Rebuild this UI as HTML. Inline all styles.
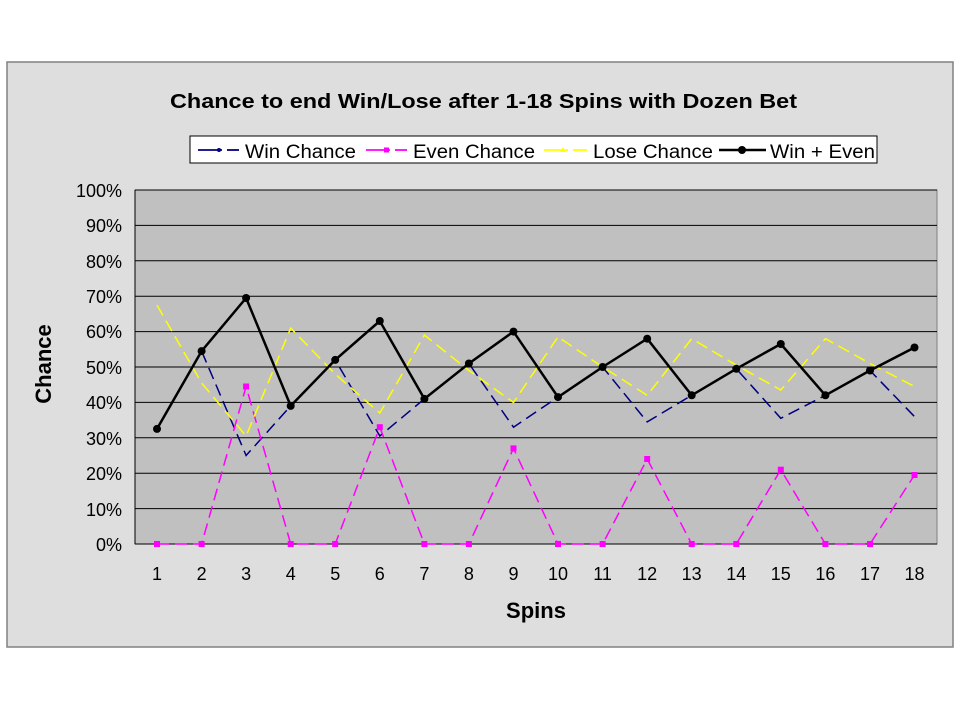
<!DOCTYPE html><html><head><style>body{margin:0;background:#fff}svg{display:block}text{font-family:"Liberation Sans",Arial,sans-serif}</style></head><body>
<svg width="960" height="720" xmlns="http://www.w3.org/2000/svg">
<rect x="7" y="62" width="946" height="585" fill="#dedede" stroke="#808080" stroke-width="1.5"/>
<text x="170" y="108" font-size="20" font-weight="bold" textLength="627" lengthAdjust="spacingAndGlyphs">Chance to end Win/Lose after 1-18 Spins with Dozen Bet</text>
<rect x="135" y="190" width="802" height="354" fill="#c0c0c0" stroke="#808080"/>
<g stroke="#000" stroke-width="1">
<line x1="135" y1="190" x2="937" y2="190"/><line x1="135" y1="225.4" x2="937" y2="225.4"/><line x1="135" y1="260.8" x2="937" y2="260.8"/><line x1="135" y1="296.2" x2="937" y2="296.2"/><line x1="135" y1="331.6" x2="937" y2="331.6"/><line x1="135" y1="367" x2="937" y2="367"/><line x1="135" y1="402.4" x2="937" y2="402.4"/><line x1="135" y1="437.8" x2="937" y2="437.8"/><line x1="135" y1="473.2" x2="937" y2="473.2"/><line x1="135" y1="508.6" x2="937" y2="508.6"/>
<line x1="135" y1="544" x2="937" y2="544"/><line x1="135" y1="190" x2="135" y2="544"/>
</g>
<g font-size="18" text-anchor="end">
<text x="122" y="197">100%</text><text x="122" y="232">90%</text><text x="122" y="268">80%</text><text x="122" y="303">70%</text><text x="122" y="338">60%</text><text x="122" y="374">50%</text><text x="122" y="409">40%</text><text x="122" y="445">30%</text><text x="122" y="480">20%</text><text x="122" y="516">10%</text><text x="122" y="551">0%</text>
</g>
<g font-size="18" text-anchor="middle">
<text x="157" y="580">1</text><text x="201.6" y="580">2</text><text x="246.1" y="580">3</text><text x="290.7" y="580">4</text><text x="335.2" y="580">5</text><text x="379.8" y="580">6</text><text x="424.4" y="580">7</text><text x="468.9" y="580">8</text><text x="513.5" y="580">9</text><text x="558" y="580">10</text><text x="602.6" y="580">11</text><text x="647.2" y="580">12</text><text x="691.7" y="580">13</text><text x="736.3" y="580">14</text><text x="780.8" y="580">15</text><text x="825.4" y="580">16</text><text x="870" y="580">17</text><text x="914.5" y="580">18</text>
</g>
<text x="536" y="618" font-size="22" font-weight="bold" text-anchor="middle">Spins</text>
<text transform="translate(51,364) rotate(-90)" font-size="22" font-weight="bold" text-anchor="middle">Chance</text>
<polyline fill="none" stroke="#000080" stroke-width="1.5" stroke-dasharray="12,6" points="157,428.9 201.6,351.1 246.1,455.5 290.7,405.9 335.2,359.9 379.8,436 424.4,398.9 468.9,363.5 513.5,427.2 558,397.1 602.6,367 647.2,421.9 691.7,395.3 736.3,368.8 780.8,418.3 825.4,395.3 870,370.5 914.5,416.6"/>
<polyline fill="none" stroke="#ff00ff" stroke-width="1.5" stroke-dasharray="12,6" points="157,544 201.6,544 246.1,386.5 290.7,544 335.2,544 379.8,427.2 424.4,544 468.9,544 513.5,448.4 558,544 602.6,544 647.2,459 691.7,544 736.3,544 780.8,469.7 825.4,544 870,544 914.5,475"/>
<polyline fill="none" stroke="#ffff00" stroke-width="1.5" stroke-dasharray="12,6" points="157,305.1 201.6,383 246.1,436 290.7,328.1 335.2,374.1 379.8,413 424.4,335.1 468.9,370.5 513.5,402.4 558,336.9 602.6,367 647.2,395.3 691.7,338.7 736.3,365.2 780.8,390 825.4,338.7 870,363.5 914.5,386.5"/>
<polyline fill="none" stroke="#000" stroke-width="2.5" points="157,428.9 201.6,351.1 246.1,298 290.7,405.9 335.2,359.9 379.8,321 424.4,398.9 468.9,363.5 513.5,331.6 558,397.1 602.6,367 647.2,338.7 691.7,395.3 736.3,368.8 780.8,344 825.4,395.3 870,370.5 914.5,347.5"/>
<g fill="#ff00ff">
<rect x="154" y="541" width="6" height="6"/><rect x="198.6" y="541" width="6" height="6"/><rect x="243.1" y="383.5" width="6" height="6"/><rect x="287.7" y="541" width="6" height="6"/><rect x="332.2" y="541" width="6" height="6"/><rect x="376.8" y="424.2" width="6" height="6"/><rect x="421.4" y="541" width="6" height="6"/><rect x="465.9" y="541" width="6" height="6"/><rect x="510.5" y="445.4" width="6" height="6"/><rect x="555" y="541" width="6" height="6"/><rect x="599.6" y="541" width="6" height="6"/><rect x="644.2" y="456" width="6" height="6"/><rect x="688.7" y="541" width="6" height="6"/><rect x="733.3" y="541" width="6" height="6"/><rect x="777.8" y="466.7" width="6" height="6"/><rect x="822.4" y="541" width="6" height="6"/><rect x="867" y="541" width="6" height="6"/><rect x="911.5" y="472" width="6" height="6"/>
</g>
<g fill="#000">
<circle cx="157" cy="428.9" r="4"/><circle cx="201.6" cy="351.1" r="4"/><circle cx="246.1" cy="298" r="4"/><circle cx="290.7" cy="405.9" r="4"/><circle cx="335.2" cy="359.9" r="4"/><circle cx="379.8" cy="321" r="4"/><circle cx="424.4" cy="398.9" r="4"/><circle cx="468.9" cy="363.5" r="4"/><circle cx="513.5" cy="331.6" r="4"/><circle cx="558" cy="397.1" r="4"/><circle cx="602.6" cy="367" r="4"/><circle cx="647.2" cy="338.7" r="4"/><circle cx="691.7" cy="395.3" r="4"/><circle cx="736.3" cy="368.8" r="4"/><circle cx="780.8" cy="344" r="4"/><circle cx="825.4" cy="395.3" r="4"/><circle cx="870" cy="370.5" r="4"/><circle cx="914.5" cy="347.5" r="4"/>
</g>
<rect x="190" y="136" width="687" height="27" fill="#fff" stroke="#000"/>
<g font-size="19">
<line x1="198" y1="150" x2="222" y2="150" stroke="#000080" stroke-width="1.8"/><line x1="227" y1="150" x2="239" y2="150" stroke="#000080" stroke-width="1.8"/><circle cx="219" cy="150" r="2" fill="#000080"/>
<text x="245" y="158" textLength="111" lengthAdjust="spacingAndGlyphs">Win Chance</text>
<line x1="366" y1="150" x2="390" y2="150" stroke="#ff00ff" stroke-width="1.8"/><line x1="395" y1="150" x2="407" y2="150" stroke="#ff00ff" stroke-width="1.8"/><rect x="384" y="147.5" width="5" height="5" fill="#ff00ff"/>
<text x="413" y="158" textLength="122" lengthAdjust="spacingAndGlyphs">Even Chance</text>
<line x1="544" y1="150" x2="568" y2="150" stroke="#ffff00" stroke-width="1.8"/><line x1="573" y1="150" x2="587" y2="150" stroke="#ffff00" stroke-width="1.8"/><polygon points="563,147 566,152 560,152" fill="#ffff00"/>
<text x="593" y="158" textLength="120" lengthAdjust="spacingAndGlyphs">Lose Chance</text>
<line x1="719" y1="150" x2="766" y2="150" stroke="#000" stroke-width="2.5"/><circle cx="742" cy="150" r="4"/>
<text x="770" y="158" textLength="105" lengthAdjust="spacingAndGlyphs">Win + Even</text>
</g>
</svg>
</body></html>
